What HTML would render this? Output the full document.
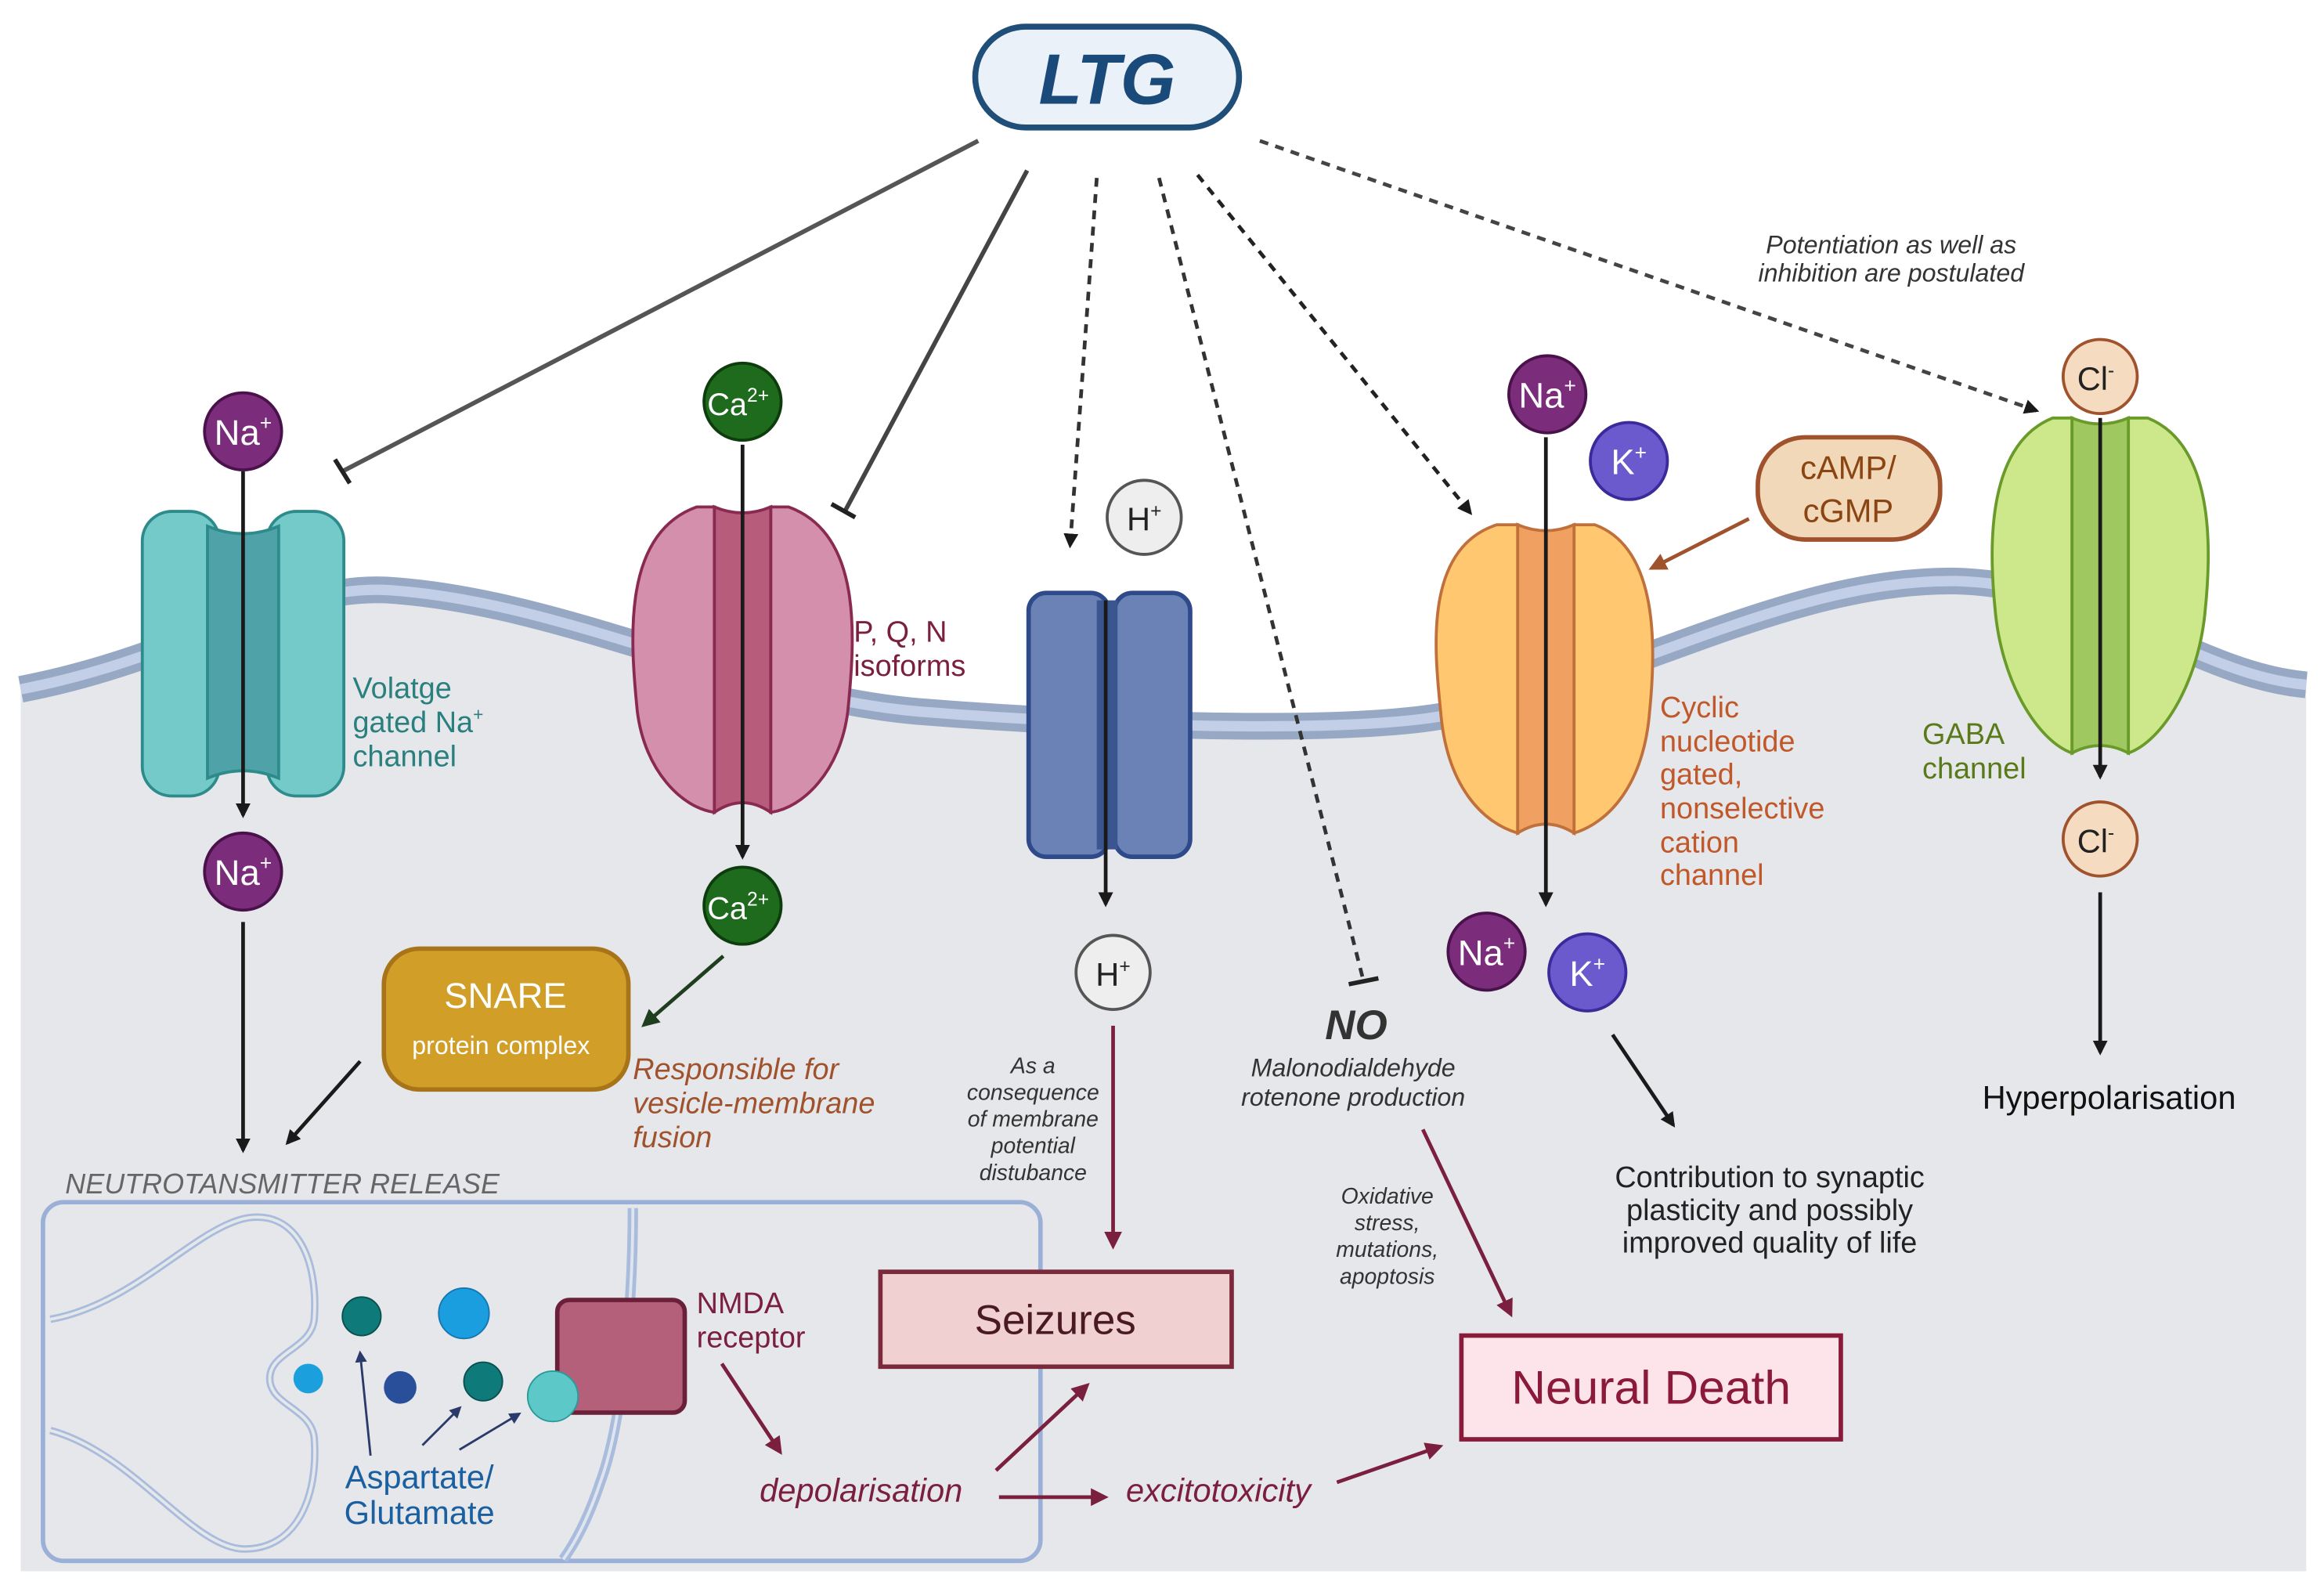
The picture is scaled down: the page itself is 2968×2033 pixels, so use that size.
<!DOCTYPE html>
<html><head><meta charset="utf-8"><style>
html,body{margin:0;padding:0;background:#fff;}
svg{display:block;}
text{font-family:"Liberation Sans",sans-serif;}
</style></head><body>
<svg width="2968" height="2033" viewBox="0 0 1568 1074" preserveAspectRatio="none" xmlns="http://www.w3.org/2000/svg">
<defs>
<marker id="ab" markerWidth="10" markerHeight="10" refX="8" refY="5" orient="auto" markerUnits="userSpaceOnUse" viewBox="0 0 10 10"><path d="M0,0 L10,5 L0,10 z" fill="#1a1a1a"/></marker>
<marker id="am" markerWidth="12" markerHeight="12" refX="9" refY="6" orient="auto" markerUnits="userSpaceOnUse" viewBox="0 0 12 12"><path d="M0,0 L12,6 L0,12 z" fill="#7a1f3d"/></marker>
<marker id="ag" markerWidth="12" markerHeight="12" refX="9" refY="6" orient="auto" markerUnits="userSpaceOnUse" viewBox="0 0 12 12"><path d="M0,0 L12,6 L0,12 z" fill="#1f3d1f"/></marker>
<marker id="abr" markerWidth="12" markerHeight="12" refX="9" refY="6" orient="auto" markerUnits="userSpaceOnUse" viewBox="0 0 12 12"><path d="M0,0 L12,6 L0,12 z" fill="#a0522d"/></marker>
<marker id="an" markerWidth="8" markerHeight="8" refX="6" refY="4" orient="auto" markerUnits="userSpaceOnUse" viewBox="0 0 8 8"><path d="M0,0 L8,4 L0,8 z" fill="#2a3a6a"/></marker>
<linearGradient id="g1" x1="0" y1="0" x2="1" y2="0"><stop offset="0" stop-color="#e6e7ea" stop-opacity="1"/></linearGradient>
</defs>
<!-- cell body -->
<path d="M14,465 C120,445 190,395 260,398 C380,405 500,470 620,480 C720,488 880,495 960,485 C1080,470 1200,390 1320,392 C1420,395 1480,455 1556,462 L1556,1060 L14,1060 Z" fill="#e6e7ea"/>
<path d="M14,465 C120,445 190,395 260,398 C380,405 500,470 620,480 C720,488 880,495 960,485 C1080,470 1200,390 1320,392 C1420,395 1480,455 1556,462" fill="none" stroke="#97a8c4" stroke-width="18"/>
<path d="M14,465 C120,445 190,395 260,398 C380,405 500,470 620,480 C720,488 880,495 960,485 C1080,470 1200,390 1320,392 C1420,395 1480,455 1556,462" fill="none" stroke="#c3cfe6" stroke-width="7"/>

<!-- LTG -->
<rect x="658" y="18" width="178" height="68" rx="34" fill="#eaf1f9" stroke="#1f4e79" stroke-width="4"/>
<text x="747" y="70" text-anchor="middle" font-size="48" font-weight="bold" font-style="italic" fill="#1a4a7a">LTG</text>

<!-- LTG lines -->
<line x1="660" y1="95" x2="231" y2="318" stroke="#555" stroke-width="3"/>
<line x1="226" y1="310" x2="236" y2="326" stroke="#222" stroke-width="3"/>
<line x1="693" y1="115" x2="570" y2="345" stroke="#444" stroke-width="3"/>
<line x1="561" y1="340" x2="577" y2="349" stroke="#222" stroke-width="3"/>
<line x1="740" y1="120" x2="722" y2="368" stroke="#333" stroke-width="2.5" stroke-dasharray="6,5" marker-end="url(#ab)"/>
<line x1="782" y1="120" x2="920" y2="662" stroke="#333" stroke-width="2.5" stroke-dasharray="6,5"/>
<line x1="910" y1="664" x2="930" y2="660" stroke="#222" stroke-width="3"/>
<line x1="808" y1="118" x2="992" y2="346" stroke="#222" stroke-width="2.5" stroke-dasharray="6,5" marker-end="url(#ab)"/>
<line x1="850" y1="95" x2="1374" y2="277" stroke="#444" stroke-width="2.5" stroke-dasharray="6,5" marker-end="url(#ab)"/>
<text x="1276" y="171" text-anchor="middle" font-size="17" font-style="italic" fill="#333">Potentiation as well as</text>
<text x="1276" y="190" text-anchor="middle" font-size="17" font-style="italic" fill="#333">inhibition are postulated</text>

<!-- Na channel -->
<rect x="96" y="345" width="52" height="192" rx="20" fill="#74c9c9" stroke="#2d8b8b" stroke-width="2"/>
<rect x="180" y="345" width="52" height="192" rx="20" fill="#74c9c9" stroke="#2d8b8b" stroke-width="2"/>
<path d="M140,355 Q164,365 188,355 L188,525 Q164,515 140,525 Z" fill="#4fa3a8" stroke="#2d8b8b" stroke-width="2"/>
<line x1="164" y1="318" x2="164" y2="550" stroke="#1a1a1a" stroke-width="2.5" marker-end="url(#ab)"/>
<circle cx="164" cy="291" r="26" fill="#7b2d7b" stroke="#4a124a" stroke-width="2"/>
<text x="164" y="300" text-anchor="middle" font-size="24" fill="#fff">Na<tspan font-size="14" dy="-10">+</tspan></text>
<circle cx="164" cy="588" r="26" fill="#7b2d7b" stroke="#4a124a" stroke-width="2"/>
<text x="164" y="597" text-anchor="middle" font-size="24" fill="#fff">Na<tspan font-size="14" dy="-10">+</tspan></text>
<line x1="164" y1="622" x2="164" y2="776" stroke="#1a1a1a" stroke-width="2.5" marker-end="url(#ab)"/>
<text font-size="20" fill="#2a7f7f"><tspan x="238" y="471">Volatge</tspan><tspan x="238" y="494">gated Na<tspan font-size="12" dy="-8">+</tspan></tspan><tspan x="238" y="517">channel</tspan></text>

<!-- Ca channel -->
<path d="M482,342 L470,342 C420,360 425,430 430,480 C435,520 460,545 482,548 Z" fill="#d38fab" stroke="#8a2a50" stroke-width="2"/>
<path d="M520,342 L532,342 C582,360 577,430 572,480 C567,520 542,545 520,548 Z" fill="#d38fab" stroke="#8a2a50" stroke-width="2"/>
<path d="M482,342 Q501,350 520,342 L520,548 Q501,535 482,548 Z" fill="#b85c7c" stroke="#8a2a50" stroke-width="2"/>
<line x1="501" y1="300" x2="501" y2="578" stroke="#1a1a1a" stroke-width="2.5" marker-end="url(#ab)"/>
<circle cx="501" cy="271" r="26" fill="#1e6b1e" stroke="#0d3d0d" stroke-width="2"/>
<text x="498" y="280" text-anchor="middle" font-size="21" fill="#fff">Ca<tspan font-size="13" dy="-9">2+</tspan></text>
<circle cx="501" cy="611" r="26" fill="#1e6b1e" stroke="#0d3d0d" stroke-width="2"/>
<text x="498" y="620" text-anchor="middle" font-size="21" fill="#fff">Ca<tspan font-size="13" dy="-9">2+</tspan></text>
<text font-size="20" fill="#7a1f3d"><tspan x="576" y="433">P, Q, N</tspan><tspan x="576" y="456">isoforms</tspan></text>
<line x1="488" y1="645" x2="435" y2="691" stroke="#1f3d1f" stroke-width="2.5" marker-end="url(#ag)"/>

<!-- SNARE -->
<rect x="259" y="640" width="165" height="95" rx="24" fill="#d19e28" stroke="#a8741a" stroke-width="3"/>
<text x="341" y="680" text-anchor="middle" font-size="24" fill="#fff">SNARE</text>
<text x="338" y="711" text-anchor="middle" font-size="17" fill="#fff">protein complex</text>
<line x1="243" y1="716" x2="194" y2="771" stroke="#1a1a1a" stroke-width="2.5" marker-end="url(#ab)"/>
<text font-size="20" font-style="italic" fill="#a0522d"><tspan x="427" y="728">Responsible for</tspan><tspan x="427" y="751">vesicle-membrane</tspan><tspan x="427" y="774">fusion</tspan></text>
<text x="44" y="805" font-size="19" font-style="italic" fill="#666">NEUTROTANSMITTER RELEASE</text>

<!-- synapse box -->
<rect x="29" y="811" width="673" height="242" rx="14" fill="none" stroke="#9ab0d6" stroke-width="3"/>
<path d="M34,890 C90,880 130,830 165,822 C200,815 215,850 212,890 C210,910 182,912 182,930 C182,948 210,950 212,970 C215,1010 200,1045 165,1045 C130,1045 90,980 34,965" fill="none" stroke="#a9bcdc" stroke-width="5"/>
<path d="M34,890 C90,880 130,830 165,822 C200,815 215,850 212,890 C210,910 182,912 182,930 C182,948 210,950 212,970 C215,1010 200,1045 165,1045 C130,1045 90,980 34,965" fill="none" stroke="#e6e7ea" stroke-width="2"/>
<path d="M427,815 C427,880 420,960 405,1000 C395,1030 385,1045 380,1052" fill="none" stroke="#a9bcdc" stroke-width="7"/>
<path d="M427,815 C427,880 420,960 405,1000 C395,1030 385,1045 380,1052" fill="none" stroke="#dfe5f0" stroke-width="2"/>
<circle cx="208" cy="930" r="10" fill="#1ca0dd"/>
<circle cx="244" cy="888" r="13" fill="#0f7a7a" stroke="#0b4f4f"/>
<circle cx="313" cy="886" r="17" fill="#1a9ee0" stroke="#1676b0"/>
<circle cx="270" cy="936" r="11" fill="#2a4f9a"/>
<circle cx="326" cy="932" r="13" fill="#0f7a7a" stroke="#0b4f4f"/>
<rect x="376" y="877" width="86" height="76" rx="8" fill="#b5607a" stroke="#6a2038" stroke-width="3"/>
<circle cx="373" cy="942" r="17" fill="#5cc8c8" stroke="#2a9a9a"/>
<line x1="250" y1="982" x2="243" y2="913" stroke="#2a3a6a" stroke-width="1.5" marker-end="url(#an)"/>
<line x1="285" y1="975" x2="310" y2="950" stroke="#2a3a6a" stroke-width="1.5" marker-end="url(#an)"/>
<line x1="310" y1="978" x2="350" y2="954" stroke="#2a3a6a" stroke-width="1.5" marker-end="url(#an)"/>
<text text-anchor="middle" font-size="22" fill="#1a5fa0"><tspan x="283" y="1004">Aspartate/</tspan><tspan x="283" y="1028">Glutamate</tspan></text>
<text font-size="20" fill="#7a1f3d"><tspan x="470" y="886">NMDA</tspan><tspan x="470" y="909">receptor</tspan></text>
<line x1="487" y1="920" x2="526" y2="979" stroke="#7a1f3d" stroke-width="2.5" marker-end="url(#am)"/>
<text x="581" y="1013" text-anchor="middle" font-size="22" font-style="italic" fill="#7a1f3d">depolarisation</text>
<line x1="672" y1="992" x2="733" y2="935" stroke="#7a1f3d" stroke-width="2.5" marker-end="url(#am)"/>
<line x1="674" y1="1010" x2="745" y2="1010" stroke="#7a1f3d" stroke-width="2.5" marker-end="url(#am)"/>
<text x="822" y="1013" text-anchor="middle" font-size="22" font-style="italic" fill="#7a1f3d">excitotoxicity</text>
<line x1="902" y1="1000" x2="971" y2="976" stroke="#7a1f3d" stroke-width="2.5" marker-end="url(#am)"/>

<!-- H channel -->
<rect x="694" y="400" width="54" height="178" rx="12" fill="#6a82b5" stroke="#2f4a8a" stroke-width="3"/>
<rect x="752" y="400" width="51" height="178" rx="12" fill="#6a82b5" stroke="#2f4a8a" stroke-width="3"/>
<rect x="740" y="405" width="14" height="168" fill="#3a5590"/>
<circle cx="772" cy="349" r="25" fill="#eeeeee" stroke="#555" stroke-width="2"/>
<text x="772" y="358" text-anchor="middle" font-size="22" fill="#222">H<tspan font-size="13" dy="-9">+</tspan></text>
<line x1="746" y1="405" x2="746" y2="610" stroke="#1a1a1a" stroke-width="2.5" marker-end="url(#ab)"/>
<circle cx="751" cy="656" r="25" fill="#eeeeee" stroke="#555" stroke-width="2"/>
<text x="751" y="665" text-anchor="middle" font-size="22" fill="#222">H<tspan font-size="13" dy="-9">+</tspan></text>
<line x1="751" y1="692" x2="751" y2="840" stroke="#7a1f3d" stroke-width="2.5" marker-end="url(#am)"/>
<text text-anchor="middle" font-size="15" font-style="italic" fill="#333"><tspan x="697" y="724">As a</tspan><tspan x="697" y="742">consequence</tspan><tspan x="697" y="760">of membrane</tspan><tspan x="697" y="778">potential</tspan><tspan x="697" y="796">distubance</tspan></text>
<rect x="594" y="858" width="237" height="64" fill="#f0d0d0" stroke="#7a2a3a" stroke-width="3"/>
<text x="712" y="900" text-anchor="middle" font-size="28" fill="#4a1a22">Seizures</text>

<!-- NO -->
<text x="915" y="701" text-anchor="middle" font-size="28" font-weight="bold" font-style="italic" fill="#333">NO</text>
<text text-anchor="middle" font-size="17" font-style="italic" fill="#333"><tspan x="913" y="726">Malonodialdehyde</tspan><tspan x="913" y="746">rotenone production</tspan></text>
<line x1="960" y1="762" x2="1019" y2="886" stroke="#7a1f3d" stroke-width="2.5" marker-end="url(#am)"/>
<text text-anchor="middle" font-size="15" font-style="italic" fill="#333"><tspan x="936" y="812">Oxidative</tspan><tspan x="936" y="830">stress,</tspan><tspan x="936" y="848">mutations,</tspan><tspan x="936" y="866">apoptosis</tspan></text>
<rect x="986" y="901" width="256" height="70" fill="#fce4ea" stroke="#8b1a3a" stroke-width="3"/>
<text x="1114" y="947" text-anchor="middle" font-size="32" fill="#8b1a3a">Neural Death</text>

<!-- CNG channel -->
<path d="M1024,354 L1010,354 C960,370 968,440 972,480 C976,530 1000,555 1024,562 Z" fill="#ffc870" stroke="#c0703a" stroke-width="2"/>
<path d="M1062,354 L1076,354 C1120,370 1117,440 1113,480 C1109,530 1085,555 1062,562 Z" fill="#ffc870" stroke="#c0703a" stroke-width="2"/>
<path d="M1024,354 Q1043,362 1062,354 L1062,562 Q1043,550 1024,562 Z" fill="#f0a060" stroke="#c0703a" stroke-width="2"/>
<line x1="1043" y1="295" x2="1043" y2="610" stroke="#1a1a1a" stroke-width="2.5" marker-end="url(#ab)"/>
<circle cx="1044" cy="266" r="26" fill="#7b2d7b" stroke="#4a124a" stroke-width="2"/>
<text x="1044" y="275" text-anchor="middle" font-size="24" fill="#fff">Na<tspan font-size="14" dy="-10">+</tspan></text>
<circle cx="1099" cy="311" r="26" fill="#6a5acd" stroke="#3a2a9a" stroke-width="2"/>
<text x="1099" y="320" text-anchor="middle" font-size="24" fill="#fff">K<tspan font-size="14" dy="-10">+</tspan></text>
<circle cx="1003" cy="642" r="26" fill="#7b2d7b" stroke="#4a124a" stroke-width="2"/>
<text x="1003" y="651" text-anchor="middle" font-size="24" fill="#fff">Na<tspan font-size="14" dy="-10">+</tspan></text>
<circle cx="1071" cy="656" r="26" fill="#6a5acd" stroke="#3a2a9a" stroke-width="2"/>
<text x="1071" y="665" text-anchor="middle" font-size="24" fill="#fff">K<tspan font-size="14" dy="-10">+</tspan></text>
<line x1="1088" y1="698" x2="1129" y2="759" stroke="#1a1a1a" stroke-width="2.5" marker-end="url(#ab)"/>
<rect x="1186" y="295" width="123" height="69" rx="32" fill="#f0d8b8" stroke="#a0522d" stroke-width="3"/>
<text text-anchor="middle" font-size="22" fill="#8b4513"><tspan x="1247" y="323">cAMP/</tspan><tspan x="1247" y="352">cGMP</tspan></text>
<line x1="1180" y1="350" x2="1115" y2="383" stroke="#a0522d" stroke-width="2.5" marker-end="url(#abr)"/>
<text font-size="20" fill="#c0582a"><tspan x="1120" y="484">Cyclic</tspan><tspan x="1120" y="507">nucleotide</tspan><tspan x="1120" y="529">gated,</tspan><tspan x="1120" y="552">nonselective</tspan><tspan x="1120" y="575">cation</tspan><tspan x="1120" y="597">channel</tspan></text>
<text text-anchor="middle" font-size="20" fill="#222"><tspan x="1194" y="801">Contribution to synaptic</tspan><tspan x="1194" y="823">plasticity and possibly</tspan><tspan x="1194" y="845">improved quality of life</tspan></text>

<!-- GABA -->
<path d="M1398,282 L1385,282 C1340,300 1342,370 1346,410 C1350,460 1375,500 1398,508 Z" fill="#cde88a" stroke="#6a9a2a" stroke-width="2"/>
<path d="M1436,282 L1449,282 C1494,300 1492,370 1488,410 C1484,460 1459,500 1436,508 Z" fill="#cde88a" stroke="#6a9a2a" stroke-width="2"/>
<path d="M1398,282 Q1417,290 1436,282 L1436,508 Q1417,498 1398,508 Z" fill="#a0c860" stroke="#6a9a2a" stroke-width="2"/>
<line x1="1417" y1="282" x2="1417" y2="524" stroke="#1a1a1a" stroke-width="2.5" marker-end="url(#ab)"/>
<circle cx="1417" cy="254" r="25" fill="#f5dcc0" stroke="#a0522d" stroke-width="2"/>
<text x="1414" y="263" text-anchor="middle" font-size="22" fill="#222">Cl<tspan font-size="13" dy="-9">-</tspan></text>
<circle cx="1417" cy="566" r="25" fill="#f5dcc0" stroke="#a0522d" stroke-width="2"/>
<text x="1414" y="575" text-anchor="middle" font-size="22" fill="#222">Cl<tspan font-size="13" dy="-9">-</tspan></text>
<line x1="1417" y1="602" x2="1417" y2="710" stroke="#1a1a1a" stroke-width="2.5" marker-end="url(#ab)"/>
<text font-size="20" fill="#5a7a1a"><tspan x="1297" y="502">GABA</tspan><tspan x="1297" y="525">channel</tspan></text>
<text x="1423" y="748" text-anchor="middle" font-size="22" fill="#111">Hyperpolarisation</text>
</svg>
</body></html>
